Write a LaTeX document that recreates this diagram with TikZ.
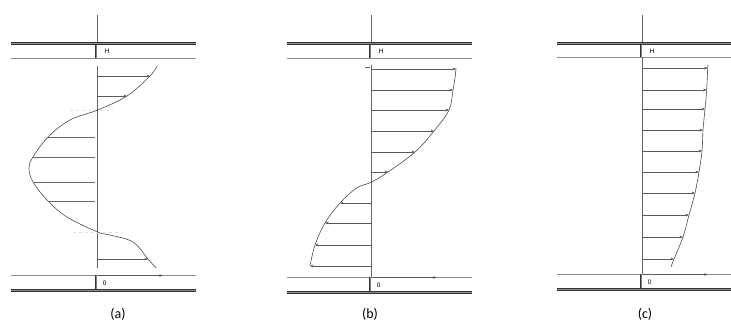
\documentclass[tikz,border=0pt]{standalone}
\usepackage{fontspec}
\setmainfont{Carlito}
\newfontfamily\wallfont{Liberation Sans}
\usetikzlibrary{arrows.meta}

\begin{document}
\begin{tikzpicture}[
    x=1pt, y=-1pt,
    wall_line/.style={draw=black!80, double=black!45, double distance=1.1pt, line width=0.6pt},
    edge_line/.style={draw=black!45, line width=0.7pt},
    wall_tick/.style={draw=black!80, double=black!50, double distance=0.8pt, line width=0.6pt},
    axis_line/.style={draw=black!60, line width=0.7pt},
    profile/.style={draw=black!70, line width=0.6pt},
    vel/.style={-{Stealth[length=3.5pt,width=2.8pt]}, draw=black!65, line width=0.6pt},
    bar/.style={draw=black!60, line width=0.6pt},
    faint/.style={draw=black!12, line width=0.6pt, dashed},
    wall_lab/.style={font=\wallfont\fontsize{6.5}{6.5}\selectfont, inner sep=0pt},
    cap_lab/.style={font=\fontsize{14}{15}\selectfont, inner sep=0pt}
]
  \useasboundingbox (0,0) rectangle (731,325);

  % Channel walls of the three panels
  \foreach \xl/\xr/\xa/\yt/\yb/\name/\cap/\xc in {11/196/97.7/58/275/a/(a)/118,
      287/472/371.7/58/277/b/(b)/370, 557/731/642.7/57/274/c/(c)/645} {
    \draw[axis_line] (\xa,15) -- (\xa,43.5);
    \draw[wall_line] (\xl,43.5) -- (\xr,43.5);
    \draw[edge_line] (\xl,\yt) -- (\xr,\yt);
    \draw[wall_tick] (\xa-1.5,44.5) -- (\xa-1.5,\yt);
    \draw[edge_line] (\xl,\yb) -- (\xr,\yb);
    \draw[wall_tick] (\xa-1.5,\yb) -- (\xa-1.5,\yb+15);
    \draw[wall_line] (\xl,\yb+15.5) -- (\xr,\yb+15.5);
    \draw[vel] (\xa,\yb+0.5) -- (\xa+65,\yb+0.5);
    \node[wall_lab] (top_\name) at (\xa+9.5,51) {H};
    \node[wall_lab] (zero_\name) at (\xa+7,\yb+8.5) {0};
    \node[cap_lab] (cap_\name) at (\xc,314) {\cap};
  }

  % (a) oscillating profile
  \draw[axis_line] (97.7,66) -- (97.7,268);
  \draw[faint] (70,110) -- (113,110);
  \draw[faint] (73,232) -- (120,232);
  \draw[profile] plot[smooth, tension=0.6] coordinates {(157,66) (150,76) (127,96)
      (97.7,110) (70,120) (48,137) (33,157) (29,168) (33,182) (48,201) (67,217)
      (97.7,232) (110,235) (133,242) (148,259) (156,268)};
  \foreach \y/\x in {76/150, 96/127, 259/148}
    \draw[vel] (97.7,\y) -- (\x,\y);
  \foreach \y/\x in {137/48, 157/33, 182/33, 201/48}
    \draw[bar] (95,\y) -- (\x,\y);

  % (b) reversing profile
  \draw[axis_line] (371.7,65) -- (371.7,277);
  \draw[bar] (365,67) -- (370,67);
  \draw[profile] plot[smooth, tension=0.6] coordinates {(456,68) (455,78) (453,90)
      (449,110) (434,131) (415,152) (388,172) (371.7,182) (356.7,188) (340,203)
      (325,223) (315,245) (310,266)};
  \foreach \y/\x in {69/456, 90/453, 110/449, 131/434, 152/415, 172/388,
      203/340, 223/325, 245/315, 266/310}
    \draw[vel] (371.7,\y) -- (\x,\y);

  % (c) one-way profile
  \draw[axis_line] (642.7,57) -- (642.7,274);
  \draw[profile] plot[smooth, tension=0.6] coordinates {(708,66) (707.7,68)
      (706.7,90) (705,109) (703,130) (702,151) (699,172) (695,193) (689,215)
      (683,237) (674,259) (671,267)};
  \foreach \y/\x in {68/707.7, 90/706.7, 109/705, 130/703, 151/702, 172/699,
      193/695, 215/689, 237/683, 259/674}
    \draw[vel] (642.7,\y) -- (\x,\y);

\end{tikzpicture}
\end{document}
